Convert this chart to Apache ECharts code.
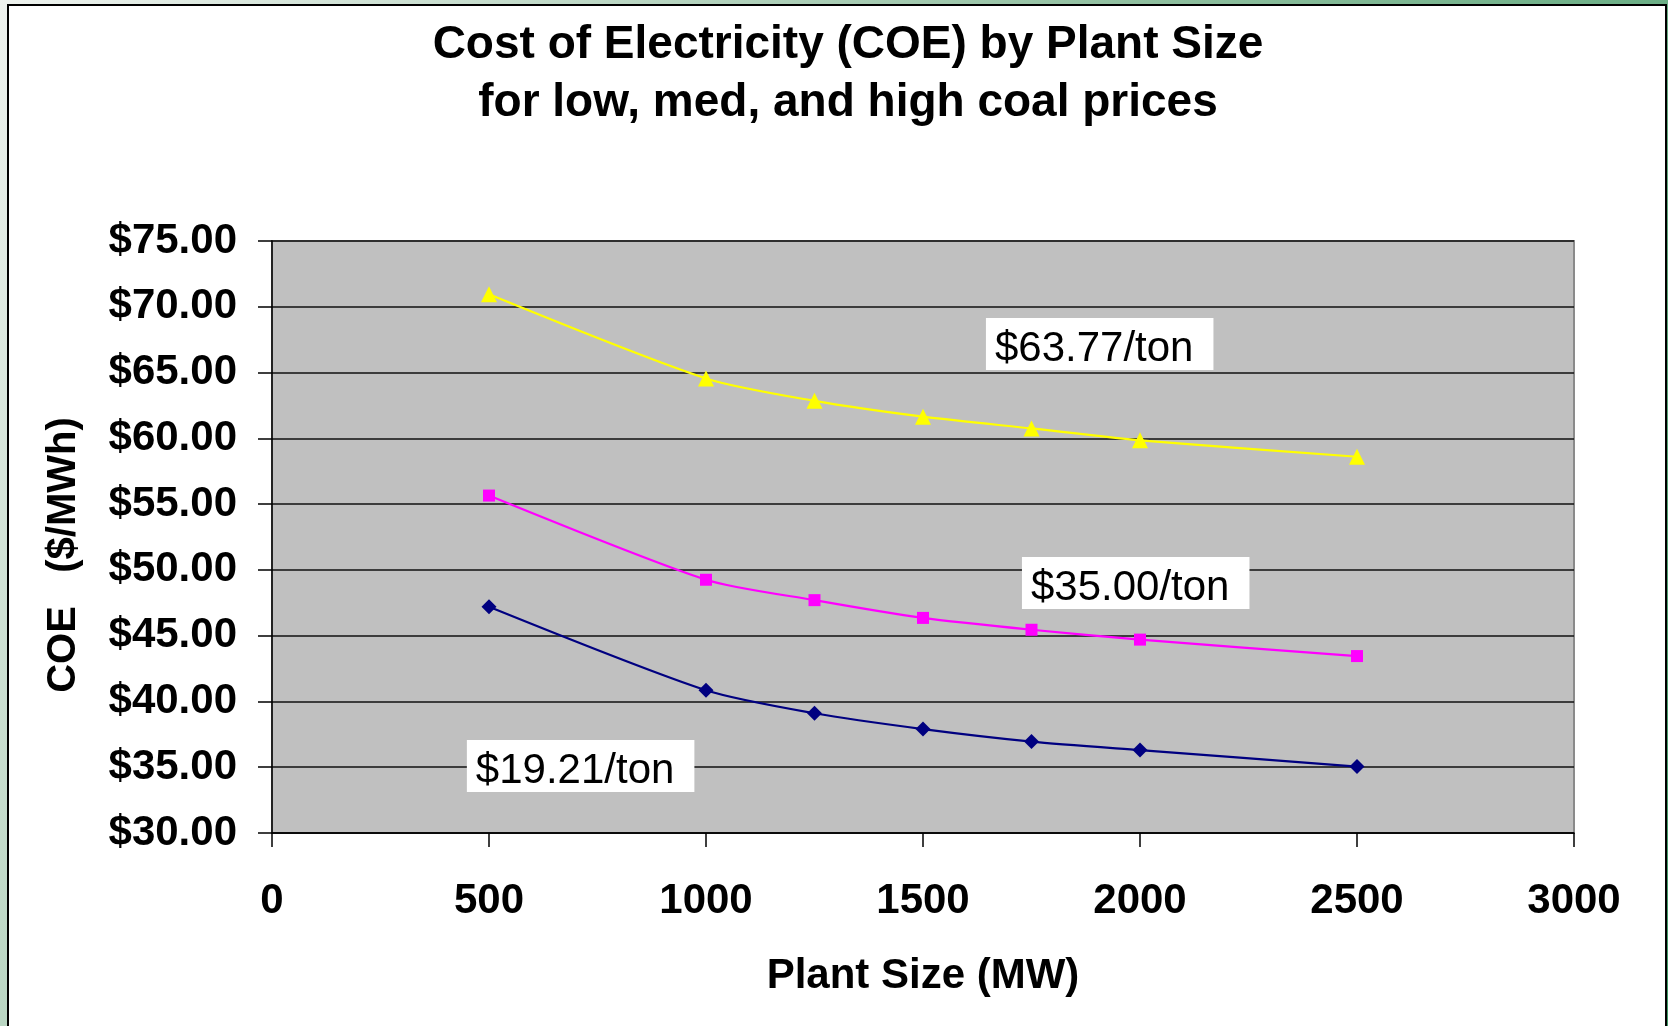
<!DOCTYPE html>
<html>
<head>
<meta charset="utf-8">
<script src="https://cdn.jsdelivr.net/npm/echarts@6/dist/echarts.min.js"></script>
<style>
  html, body { margin: 0; padding: 0; background: #fff; }
  #chart { width: 1668px; height: 1026px; }
</style>
</head>
<body>
<div id="chart"></div>
<script>
// ---- data ----
const plantSizes = [500, 1000, 1250, 1500, 1750, 2000, 2500];
const coeHigh = [70.95, 64.55, 62.85, 61.65, 60.75, 59.85, 58.6];   // $63.77/ton
const coeMed  = [55.65, 49.25, 47.7, 46.35, 45.45, 44.7, 43.45];    // $35.00/ton
const coeLow  = [47.2, 40.85, 39.1, 37.9, 36.95, 36.3, 35.05];      // $19.21/ton
const seriesNames = ['$63.77/ton', '$35.00/ton', '$19.21/ton'];
const labelAnchors = [[1645, 69.15], [1728, 50.98], [449, 37.07]]; // data coords of label boxes (top-left)
const titleLines = ['Cost of Electricity (COE) by Plant Size', 'for low, med, and high coal prices'];
const xName = 'Plant Size (MW)';
const yName = 'COE   ($/MWh)';

const FONT = "'Liberation Sans', Arial, sans-serif";
const pairs = (ys) => plantSizes.map((x, i) => [x, ys[i]]);

const chart = echarts.init(document.getElementById('chart'), null, { renderer: 'canvas' });

const option = {
  animation: false,
  backgroundColor: 'transparent',
  title: {
    text: titleLines.join('\n'),
    left: 843,
    top: 11,
    textAlign: 'center',
    textStyle: { fontFamily: FONT, fontWeight: 'bold', fontSize: 46, lineHeight: 58, color: '#000' }
  },
  grid: {
    left: 272, right: 94, top: 241, bottom: 193,
    show: true, backgroundColor: '#c0c0c0', borderColor: '#8a8a8a', borderWidth: 2
  },
  xAxis: {
    type: 'value', min: 0, max: 3000, interval: 500,
    name: xName, nameLocation: 'middle', nameGap: 122,
    nameTextStyle: { fontFamily: FONT, fontWeight: 'bold', fontSize: 42, color: '#000' },
    axisLine: { show: true, onZero: false, lineStyle: { color: '#000', width: 1.5 } },
    axisTick: { show: true, inside: false, length: 14, lineStyle: { color: '#000', width: 1.5 } },
    axisLabel: {
      margin: 47, fontFamily: FONT, fontWeight: 'bold', fontSize: 42, color: '#000',
      formatter: (v) => String(v)
    },
    splitLine: { show: false }
  },
  yAxis: {
    type: 'value', min: 30, max: 75, interval: 5,
    name: yName, nameLocation: 'middle', nameGap: 188, nameRotate: 90,
    nameTextStyle: { fontFamily: FONT, fontWeight: 'bold', fontSize: 40, color: '#000', padding: [0, 36, 0, 0] },
    axisLine: { show: true, onZero: false, lineStyle: { color: '#000', width: 1.5 } },
    axisTick: { show: true, inside: false, length: 14, lineStyle: { color: '#000', width: 1.5 } },
    axisLabel: {
      margin: 35, fontFamily: FONT, fontWeight: 'bold', fontSize: 42, color: '#000',
      formatter: (v) => '$' + v.toFixed(2)
    },
    splitLine: { show: true, lineStyle: { color: '#111', width: 1.5 } }
  },
  series: [
    {
      name: seriesNames[0], type: 'line', data: pairs(coeHigh), smooth: 0.25,
      symbol: 'triangle', symbolSize: 16,
      lineStyle: { color: '#ffff00', width: 2.2 }, itemStyle: { color: '#ffff00' }
    },
    {
      name: seriesNames[1], type: 'line', data: pairs(coeMed), smooth: 0.25,
      symbol: 'rect', symbolSize: 12,
      lineStyle: { color: '#ff00ff', width: 2.2 }, itemStyle: { color: '#ff00ff' }
    },
    {
      name: seriesNames[2], type: 'line', data: pairs(coeLow), smooth: 0.25,
      symbol: 'diamond', symbolSize: 15,
      lineStyle: { color: '#000080', width: 2.2 }, itemStyle: { color: '#000080' }
    }
  ]
};

chart.setOption(option);

// frame + annotation boxes
const W = 1668, H = 1026;
const graphics = [
  {
    type: 'rect', z: -10, silent: true,
    shape: { x: 0, y: 0, width: W, height: H },
    style: {
      fill: new echarts.graphic.LinearGradient(0, 0, 1, 1, [
        { offset: 0, color: '#eef2ee' },
        { offset: 0.5, color: '#8fbf9f' },
        { offset: 1, color: '#3f9a66' }
      ])
    }
  },
  {
    type: 'rect', z: -9, silent: true,
    shape: { x: 8, y: 5, width: 1658, height: H },
    style: { fill: '#ffffff', stroke: '#000', lineWidth: 2 }
  }
];
labelAnchors.forEach((a, i) => {
  const p = chart.convertToPixel({ gridIndex: 0 }, a);
  graphics.push({
    type: 'text', z: 100,
    x: p[0], y: p[1],
    style: {
      text: seriesNames[i],
      fontFamily: FONT, fontSize: 42, fill: '#000',
      backgroundColor: '#ffffff',
      padding: [10, 20, 0, 9],
      verticalAlign: 'top', align: 'left'
    }
  });
});
chart.setOption({ graphic: graphics });
</script>
</body>
</html>
